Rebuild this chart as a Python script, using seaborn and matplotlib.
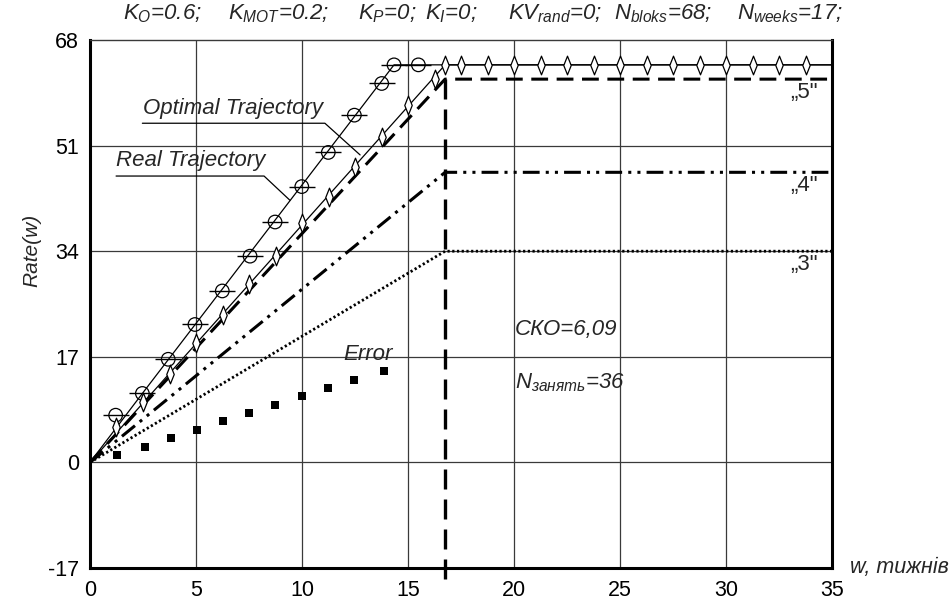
import numpy as np
import pandas as pd
import matplotlib
matplotlib.use("Agg")
import matplotlib.pyplot as plt
from matplotlib.path import Path
import seaborn as sns

# ---------------- data ----------------
opt_w = [1.21, 2.47, 3.69, 4.95, 6.24, 7.55, 8.73, 9.99, 11.24, 12.47, 13.76, 14.34, 15.49]
opt_r = [7.6, 11.1, 16.6, 22.2, 27.6, 33.2, 38.7, 44.4, 49.9, 55.9, 61.0, 64.0, 64.0]

real_w = [1.25, 2.5, 3.75, 5.0, 6.25, 7.5, 8.75, 10.0, 11.25, 12.5, 13.75, 15.0, 16.25, 16.75,
          17.5, 18.75, 20.0, 21.25, 22.5, 23.75, 25.0, 26.25, 27.5, 28.75, 30.0, 31.25, 32.5, 33.75]
real_r = [5.7, 9.8, 14.3, 19.2, 23.7, 28.8, 33.2, 38.5, 42.7, 47.6, 52.4, 57.5, 61.7, 64.0,
          64.0, 64.0, 64.0, 64.0, 64.0, 64.0, 64.0, 64.0, 64.0, 64.0, 64.0, 64.0, 64.0, 64.0]

err_w = [1.27, 2.59, 3.82, 5.05, 6.27, 7.5, 8.73, 10.0, 11.23, 12.45, 13.87]
err_r = [1.2, 2.5, 3.9, 5.2, 6.6, 7.9, 9.2, 10.7, 12.0, 13.3, 14.7]

opt_line_w = [0, 2.47, 14.34, 35]
opt_line_r = [0, 11.1, 64.0, 64.0]
real_line_w = [0, 16.75, 35]
real_line_r = [0, 64.0, 64.0]

level_w = [0, 16.75, 35]
level5 = [0, 61.7, 61.7]
level4 = [0, 46.7, 46.7]
level3 = [0, 34.0, 34.0]
vline_w = [16.75, 16.75]
vline_r = [61.7, -19.5]

x_ticks = [0, 5, 10, 15, 20, 25, 30, 35]
y_ticks = [-17, 0, 17, 34, 51, 68]

title_parts = [
    (123, r"$K_{O}$=0.6;"),
    (228, r"$K_{MOT}$=0.2;"),
    (358, r"$K_{P}$=0;"),
    (425, r"$K_{I}$=0;"),
    (508, r"$KV_{rand}$=0;"),
    (614, r"$N_{bloks}$=68;"),
    (737, r"$N_{weeks}$=17;"),
]

# ---------------- style ----------------
sns.set_style("white")
plt.rcParams["font.family"] = ["Liberation Sans", "DejaVu Sans"]
plt.rcParams["axes.unicode_minus"] = False
plt.rcParams["mathtext.fontset"] = "custom"
plt.rcParams["mathtext.rm"] = "Liberation Sans:italic"
plt.rcParams["mathtext.it"] = "Liberation Sans:italic"
plt.rcParams["mathtext.bf"] = "Liberation Sans:italic"
plt.rcParams["mathtext.default"] = "it"

W, H = 953, 605
fig = plt.figure(figsize=(W / 100, H / 100), dpi=100)
ax = fig.add_axes([90 / W, 1 - 568 / H, (832 - 90) / W, (568 - 40) / H])
ax.set_xlim(0, 35)
ax.set_ylim(-17, 68)

# grid
for xv in x_ticks[1:-1]:
    ax.axvline(xv, color="#3a3a3a", lw=0.9, zorder=0)
for yv in y_ticks[1:-1]:
    ax.axhline(yv, color="#3a3a3a", lw=0.9, zorder=0)

# level lines
sns.lineplot(x=level_w, y=level5, ax=ax, color="black", lw=2.2, linestyle=(0, (5.5, 2.8)),
             estimator=None, sort=False, legend=False, zorder=2)
sns.lineplot(x=level_w, y=level4, ax=ax, color="black", lw=2.2,
             linestyle=(0, (5.5, 2, 1, 2, 1, 2)), estimator=None, sort=False, legend=False, zorder=2)
sns.lineplot(x=level_w, y=level3, ax=ax, color="black", lw=2.0, linestyle=(0, (0.8, 0.9)),
             estimator=None, sort=False, legend=False, zorder=2)
sns.lineplot(x=vline_w, y=vline_r, ax=ax, color="black", lw=2.4, linestyle=(0, (6, 3)),
             estimator=None, sort=False, legend=False, zorder=2)
ax.lines[-1].set_clip_on(False)

# trajectory lines
sns.lineplot(x=opt_line_w, y=opt_line_r, ax=ax, color="black", lw=0.9,
             estimator=None, sort=False, legend=False, zorder=3)
sns.lineplot(x=real_line_w, y=real_line_r, ax=ax, color="black", lw=0.9,
             estimator=None, sort=False, legend=False, zorder=3)

# markers
sns.scatterplot(x=opt_w, y=opt_r, ax=ax, marker="_", s=330, color="black", linewidth=1.0,
                legend=False, zorder=4)
sns.scatterplot(x=opt_w, y=opt_r, ax=ax, marker="o", s=95, facecolor="none", edgecolor="black",
                linewidth=0.9, legend=False, zorder=5)
diamond = Path([(0, 1), (0.4, 0), (0, -1), (-0.4, 0), (0, 1)],
               [Path.MOVETO, Path.LINETO, Path.LINETO, Path.LINETO, Path.CLOSEPOLY])
sns.scatterplot(x=real_w, y=real_r, ax=ax, marker=diamond, s=180, facecolor="white",
                edgecolor="black", linewidth=0.9, legend=False, zorder=5)
sns.scatterplot(x=err_w, y=err_r, ax=ax, marker="s", s=36, color="black", edgecolor="black",
                linewidth=0, legend=False, zorder=5)

# spines
for s in ["left", "bottom", "right"]:
    ax.spines[s].set_color("black")
    ax.spines[s].set_linewidth(2.2)
ax.spines["top"].set_color("#3a3a3a")
ax.spines["top"].set_linewidth(1.0)

ax.set_xticks(x_ticks)
ax.set_yticks(y_ticks)
ax.tick_params(axis="both", length=0, labelsize=15.5, colors="black")
ax.tick_params(axis="x", pad=9)
ax.tick_params(axis="y", pad=8)
ax.set_xlabel("")
ax.set_ylabel("")

# axis labels
fig.text(32 / W, 1 - 250 / H, "Rate(w)", rotation=90, ha="center", va="center",
         fontsize=15, style="italic")
fig.text(850 / W, 1 - 568 / H, "w, тижнів", ha="left", va="center", fontsize=15.5,
         style="italic")

# title parameters
for xp, txt in title_parts:
    fig.text(xp / W, 1 - 14 / H, txt, ha="left", va="center", fontsize=16, style="italic")

# annotations
ax.text(2.5, 56.1, "Optimal Trajectory", fontsize=16, style="italic", ha="left", va="baseline")
ax.text(1.23, 47.7, "Real Trajectory", fontsize=16, style="italic", ha="left", va="baseline")
ax.plot([2.47, 11.08, 12.74], [54.6, 54.6, 49.5], color="black", lw=0.9, zorder=6)
ax.plot([1.23, 8.21, 9.43], [46.1, 46.1, 42.2], color="black", lw=0.9, zorder=6)

ax.text(11.95, 17.3, "Error", fontsize=16, style="italic", ha="left", va="center")
ax.text(20.05, 21.4, "СКО=6,09", fontsize=16, style="italic", ha="left", va="center")
ax.text(20.05, 12.8, r"$N_{занять}$=36", fontsize=16, style="italic", ha="left", va="center")

for yv, lab in [(59.5, "„5\""), (44.5, "„4\""), (31.8, "„3\"")]:
    ax.text(33.05, yv, lab, fontsize=16, ha="left", va="center")

fig.savefig("out.png", dpi=100)
